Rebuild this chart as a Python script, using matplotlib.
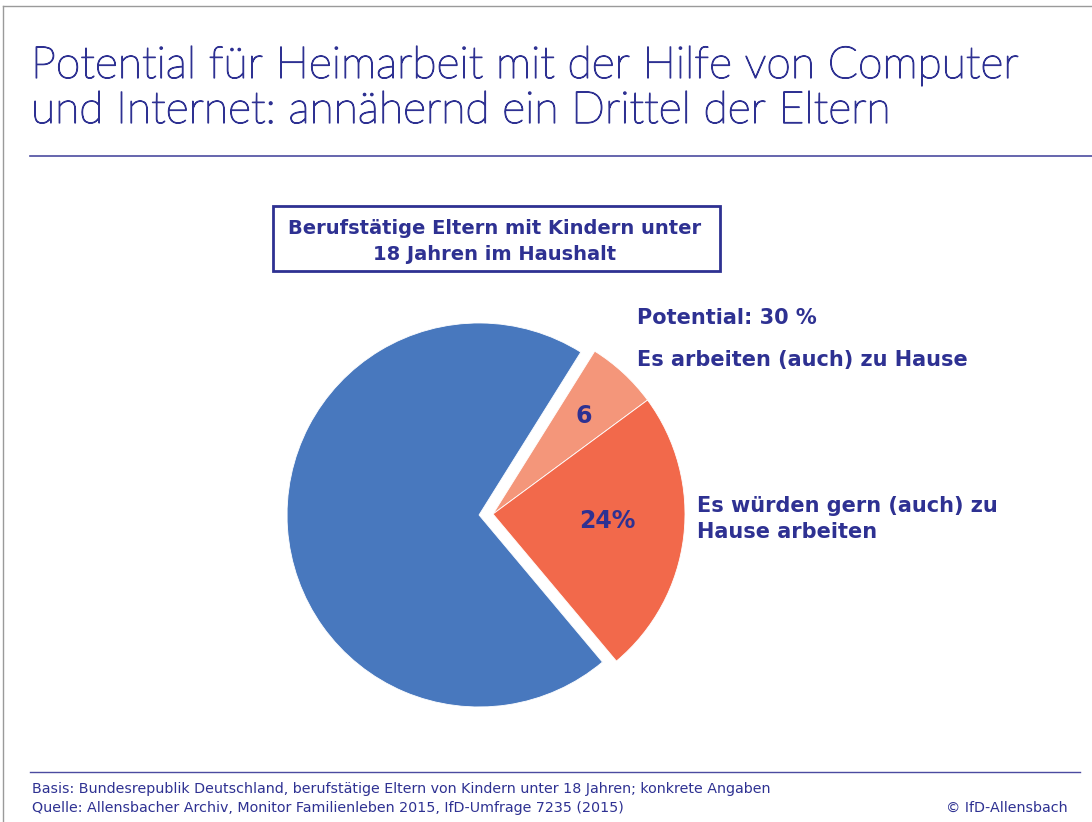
import matplotlib.pyplot as plt
import matplotlib.patheffects as pe
from matplotlib.patches import Rectangle

# Daten
anteile = [6, 24, 70]
farben = ['#F4967A', '#F2694B', '#4878BE']
werte_text = ['6', '24%', '']

titel1 = "Potential für Heimarbeit mit der Hilfe von Computer"
titel2 = "und Internet: annähernd ein Drittel der Eltern"
kasten1 = "Berufstätige Eltern mit Kindern unter"
kasten2 = "18 Jahren im Haushalt"
fuss1 = "Basis: Bundesrepublik Deutschland, berufstätige Eltern von Kindern unter 18 Jahren; konkrete Angaben"
fuss2 = "Quelle: Allensbacher Archiv, Monitor Familienleben 2015, IfD-Umfrage 7235 (2015)"

navy = '#2E3192'
H = 822

fig = plt.figure(figsize=(10.92, 8.22), dpi=100)
ax = fig.add_axes([0, 0, 1, 1])

def Y(y):
    return H - y

# Kreis
wedges, _ = ax.pie(anteile, colors=farben, startangle=58, counterclock=False,
                   explode=[0, 0, 14], radius=192, center=(493, Y(514)), frame=True,
                   wedgeprops=dict(linewidth=0.6, edgecolor='white'))
ax.set_xlim(0, 1092)
ax.set_ylim(0, H)
ax.axis('off')

# Rahmen oben / links
ax.plot([3, 1092], [Y(6), Y(6)], color='#9a9a9a', linewidth=1)
ax.plot([3, 3], [Y(6), 0], color='#9a9a9a', linewidth=1)

# Titel
tt = dict(fontsize=32, color=navy, fontfamily='Lato', fontweight='light', va='baseline', ha='left',
          path_effects=[pe.withStroke(linewidth=0.9, foreground=navy)])
ax.text(31, Y(78), titel1, **tt)
ax.text(31, Y(123), titel2, **tt)
ax.plot([30, 1092], [Y(156), Y(156)], color='#4B4BA0', linewidth=1.2)

# Kasten
ax.add_patch(Rectangle((273, Y(271)), 447, 65, fill=False, edgecolor=navy, linewidth=2))
kt = dict(fontsize=14, color=navy, fontweight='bold', fontfamily='DejaVu Sans', ha='center', va='center')
ax.text(495, Y(228), kasten1, **kt)
ax.text(495, Y(255), kasten2, **kt)

ax.text(584, Y(416), werte_text[0], fontsize=17, color=navy, fontweight='bold', fontfamily='DejaVu Sans',
        ha='center', va='center')
ax.text(607, Y(521), werte_text[1], fontsize=17, color=navy, fontweight='bold', fontfamily='DejaVu Sans',
        ha='center', va='center')

# Beschriftungen
lab = dict(fontsize=15, color=navy, fontweight='bold', fontfamily='DejaVu Sans', ha='left', va='center')
ax.text(637, Y(318), "Potential: 30 %", **lab)
ax.text(637, Y(360), "Es arbeiten (auch) zu Hause", **lab)
ax.text(697, Y(506), "Es würden gern (auch) zu", **lab)
ax.text(697, Y(532), "Hause arbeiten", **lab)

# Fußzeile
ft = dict(fontsize=10.3, color=navy, fontfamily='DejaVu Sans', va='center')
ax.plot([30, 1080], [Y(772), Y(772)], color='#4B4BA0', linewidth=1)
ax.text(32, Y(789), fuss1, **ft)
ax.text(32, Y(808), fuss2, **ft)
ax.text(1068, Y(808), "© IfD-Allensbach", ha='right', **ft)

fig.savefig('out.png', dpi=100)
